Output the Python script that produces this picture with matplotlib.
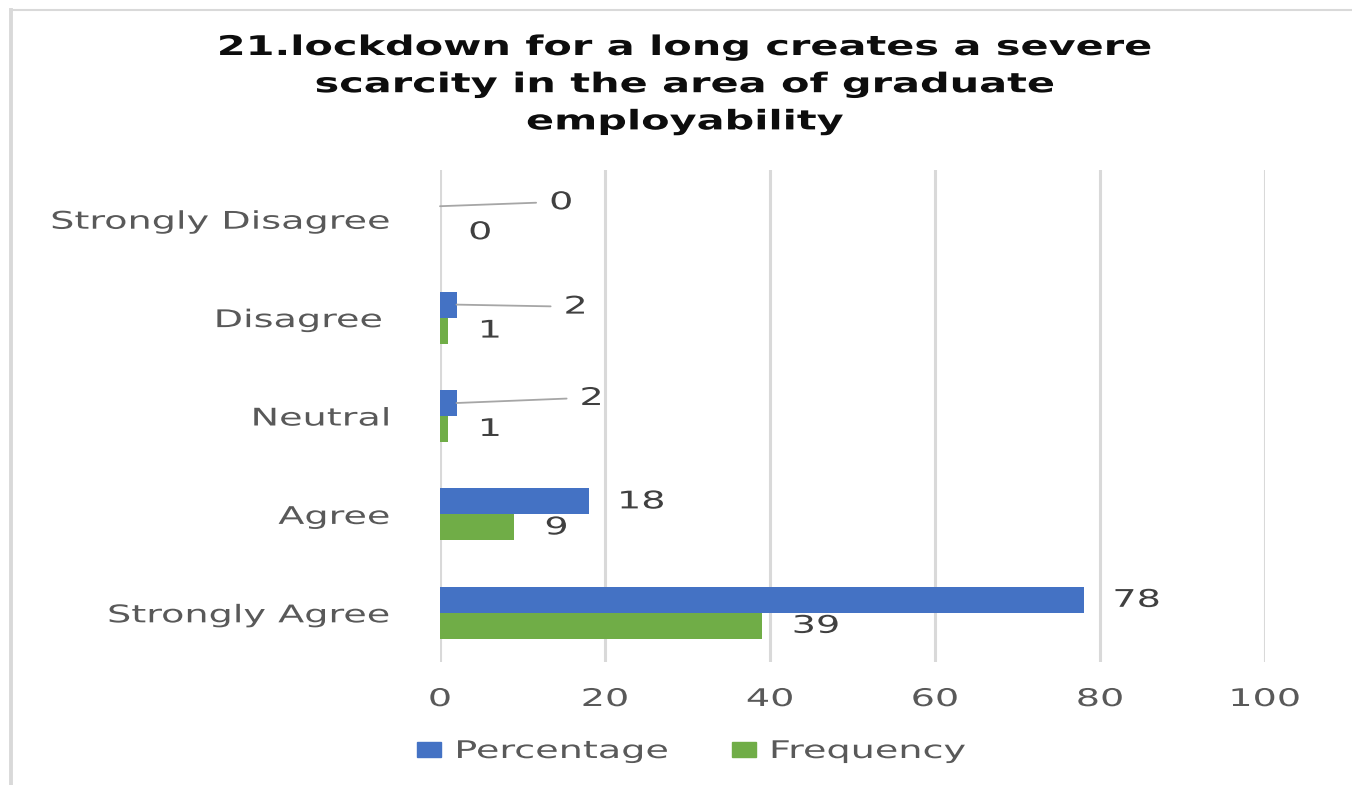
import numpy as np
import matplotlib
matplotlib.use('Agg')
import matplotlib.pyplot as plt
import matplotlib.patheffects as pe
from matplotlib.transforms import Affine2D
from matplotlib.patches import Patch
from matplotlib.lines import Line2D

categories = ['Strongly Agree', 'Agree', 'Neutral', 'Disagree ', 'Strongly Disagree']
percentage = [78, 18, 2, 2, 0]
frequency = [39, 9, 1, 1, 0]
x_ticks = [0, 20, 40, 60, 80, 100]
title = '21.lockdown for a long creates a severe\nscarcity in the area of graduate\nemployability'

BLUE = '#4472C4'
GREEN = '#70AD47'
GRID = '#D9D9D9'
GREY = '#595959'
FS = 17.5
SX = 1.57


class Wide(pe.AbstractPathEffect):
    # draw text glyphs stretched sideways, keeping one edge in place
    def __init__(self, sx=SX, anchor='center'):
        super().__init__()
        self.sx = sx
        self.anchor = anchor

    def draw_path(self, renderer, gc, tpath, affine, rgbFace=None):
        ext = tpath.get_extents(affine)
        x0 = {'left': ext.x0, 'right': ext.x1, 'center': (ext.x0 + ext.x1) / 2}[self.anchor]
        aff = affine + Affine2D().translate(-x0, 0).scale(self.sx, 1).translate(x0, 0)
        renderer.draw_path(gc, tpath, aff, rgbFace)


W, H = 1352, 785
fig = plt.figure(figsize=(W / 100, H / 100), dpi=100)
ax = fig.add_axes([440 / W, 1 - 662 / H, 825 / W, 492 / H])

y = np.arange(len(categories))
h = 0.264
ax.barh(y + h / 2, percentage, h, color=BLUE)
ax.barh(y - h / 2, frequency, h, color=GREEN)

ax.set_xlim(0, 100)
ax.set_ylim(-0.5, len(categories) - 0.5)
ax.set_xticks(x_ticks)
ax.set_yticks(y)
ax.set_yticklabels(categories)
ax.xaxis.grid(True, color=GRID, lw=2.2)
ax.set_axisbelow(True)
for s in ax.spines.values():
    s.set_visible(False)
ax.tick_params(axis='both', length=0, labelsize=FS, labelcolor=GREY)
ax.tick_params(axis='y', pad=36)
ax.tick_params(axis='x', pad=18)
for t in ax.get_yticklabels():
    t.set_path_effects([Wide(anchor='right')])
for t in ax.get_xticklabels():
    t.set_path_effects([Wide(anchor='center')])

# data labels; the small ones sit further out with a leader line
pct_offsets = [(30, 0), (30, 0), (124, 5), (108, -2), (110, 4)]
freq_offsets = [(31, 0), (31, 0), (31, 0), (31, 0), (29, 0)]
for i in range(len(categories)):
    dx, dy = pct_offsets[i]
    arrow = None
    if dx > 60:
        # shrinkA is the text end, shrinkB the bar end
        arrow = dict(arrowstyle='-', color='#A6A6A6', lw=1.3, shrinkA=8, shrinkB=0,
                     relpos=(0, 0.5))
    ax.annotate(str(percentage[i]), (percentage[i], y[i] + h / 2), xytext=(dx, dy),
                textcoords='offset pixels', ha='left', va='center', fontsize=FS,
                color='#404040', arrowprops=arrow, path_effects=[Wide(anchor='left')])
    dx, dy = freq_offsets[i]
    ax.annotate(str(frequency[i]), (frequency[i], y[i] - h / 2), xytext=(dx, dy),
                textcoords='offset pixels', ha='left', va='center', fontsize=FS,
                color='#404040', path_effects=[Wide(anchor='left')])

fig.text(685 / W, 1 - 35 / H, title, ha='center', va='top', fontsize=19.5,
         fontweight='bold', color='#0D0D0D', linespacing=1.56,
         path_effects=[Wide(1.53, 'center')])

leg = fig.legend(handles=[Patch(color=BLUE), Patch(color=GREEN)],
                 labels=['Percentage', 'Frequency'], loc='center left',
                 bbox_to_anchor=(417 / W, 1 - 751 / H), ncol=2, frameon=False,
                 fontsize=FS, labelcolor=GREY, handlelength=0.99, handleheight=0.62,
                 handletextpad=0.6, columnspacing=5.72, borderpad=0, borderaxespad=0)
for t in leg.get_texts():
    t.set_path_effects([Wide(anchor='left')])

# chart frame: only top and left edges are in view
fig.add_artist(Line2D([11 / W, 1], [1 - 10 / H] * 2, transform=fig.transFigure,
                      color=GRID, lw=1.5))
fig.add_artist(Line2D([11 / W] * 2, [0, 1 - 10 / H], transform=fig.transFigure,
                      color=GRID, lw=2.8))

fig.savefig('out.png', dpi=100)
